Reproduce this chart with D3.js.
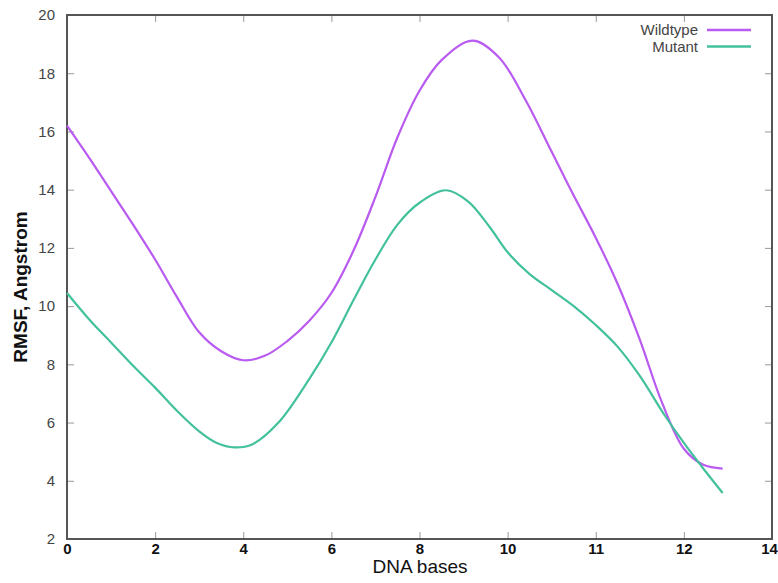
<!DOCTYPE html>
<html>
<head>
<meta charset="utf-8">
<script src="https://cdn.jsdelivr.net/npm/d3@7"></script>
<style>
  body { margin: 0; background: #fff; }
  svg { display: block; }
</style>
</head>
<body>
<div id="chart"></div>
<script>
// tick labels on the x axis are evenly spaced, so data x = slot index
const xTickLabels = ['0', '2', '4', '6', '8', '10', '11', '12', '14']
const yTicks = [2, 4, 6, 8, 10, 12, 14, 16, 18, 20]

const wildX = [0, 0.25, 0.5, 0.75, 1.0, 1.25, 1.5, 1.75, 2.0, 2.25, 2.5, 2.75, 3.0, 3.25, 3.5, 3.75, 4.0, 4.25, 4.6, 4.9, 5.2, 5.5, 5.75, 6.0, 6.25, 6.5, 6.75, 7.0, 7.22, 7.44]
const wildY = [16.2, 15.1, 13.95, 12.8, 11.6, 10.3, 9.1, 8.45, 8.14, 8.3, 8.8, 9.5, 10.45, 11.9, 13.75, 15.8, 17.4, 18.45, 19.12, 18.55, 17.1, 15.3, 13.8, 12.35, 10.75, 8.85, 6.7, 5.1, 4.55, 4.42]

const mutX = [0, 0.25, 0.5, 0.75, 1.0, 1.25, 1.5, 1.7, 1.9, 2.1, 2.4, 2.75, 3.0, 3.25, 3.5, 3.75, 4.0, 4.3, 4.55, 4.8, 5.0, 5.25, 5.5, 5.75, 6.0, 6.25, 6.5, 6.78, 7.0, 7.2, 7.44]
const mutY = [10.45, 9.55, 8.75, 7.95, 7.2, 6.4, 5.7, 5.3, 5.15, 5.25, 6.0, 7.5, 8.75, 10.2, 11.6, 12.8, 13.55, 13.98, 13.6, 12.7, 11.85, 11.1, 10.55, 10.0, 9.35, 8.6, 7.6, 6.26, 5.3, 4.5, 3.58]

const series = [
  { name: 'Wildtype', xs: wildX, ys: wildY, color: '#b95af0' },
  { name: 'Mutant', xs: mutX, ys: mutY, color: '#43c09c' }
]

const width = 778, height = 583
const margin = { left: 67, top: 15, right: 6, bottom: 44 }

const svg = d3.select('#chart').append('svg')
  .attr('width', width)
  .attr('height', height)

const x = d3.scaleLinear().domain([0, xTickLabels.length - 1])
  .range([margin.left, width - margin.right])
const y = d3.scaleLinear().domain([2, 20])
  .range([height - margin.bottom, margin.top])

const tickLen = 7
const frameColor = '#555'
const fontNarrow = '"Liberation Sans Narrow", "Liberation Sans", Arial, sans-serif'
const fontSans = '"Liberation Sans", Arial, sans-serif'

// bottom axis (inward ticks) + labels
const xAxis = d3.axisBottom(x)
  .tickValues(d3.range(xTickLabels.length))
  .tickFormat(i => xTickLabels[i])
  .tickSizeInner(-tickLen)
  .tickSizeOuter(0)
  .tickPadding(4)

const gx = svg.append('g')
  .attr('transform', `translate(0, ${y(2)})`)
  .call(xAxis)
gx.select('.domain').remove()
gx.selectAll('line').attr('stroke', '#999')
gx.selectAll('text')
  .attr('fill', '#111')
  .style('font-family', fontNarrow)
  .style('font-size', '15px')
  .style('font-weight', 'bold')
gx.selectAll('text').filter(i => i === xTickLabels.length - 1).attr('dx', -3)

// top mirror ticks
svg.append('g')
  .attr('transform', `translate(0, ${y(20)})`)
  .call(d3.axisTop(x).tickValues(d3.range(1, xTickLabels.length - 1))
    .tickSizeInner(-tickLen).tickSizeOuter(0).tickFormat(''))
  .call(g => g.select('.domain').remove())
  .selectAll('line').attr('stroke', '#999')

// left axis
const gy = svg.append('g')
  .attr('transform', `translate(${x(0)}, 0)`)
  .call(d3.axisLeft(y).tickValues(yTicks).tickSizeInner(-tickLen).tickSizeOuter(0).tickPadding(12))
gy.select('.domain').remove()
gy.selectAll('line').attr('stroke', '#999')
gy.selectAll('text')
  .attr('fill', '#444')
  .style('font-family', fontSans)
  .style('font-size', '15px')

// right mirror ticks
svg.append('g')
  .attr('transform', `translate(${x(xTickLabels.length - 1)}, 0)`)
  .call(d3.axisRight(y).tickValues(yTicks.slice(1, -1)).tickSizeInner(-tickLen).tickSizeOuter(0).tickFormat(''))
  .call(g => g.select('.domain').remove())
  .selectAll('line').attr('stroke', '#999')

// frame
svg.append('rect')
  .attr('x', x(0))
  .attr('y', y(20))
  .attr('width', x(xTickLabels.length - 1) - x(0))
  .attr('height', y(2) - y(20))
  .attr('fill', 'none')
  .attr('stroke', frameColor)
  .attr('stroke-width', 2)

// curves
const line = d3.line()
  .x(d => x(d[0]))
  .y(d => y(d[1]))
  .curve(d3.curveCatmullRom.alpha(0.5))

series.forEach(s => {
  svg.append('path')
    .datum(d3.zip(s.xs, s.ys))
    .attr('d', line)
    .attr('fill', 'none')
    .attr('stroke', s.color)
    .attr('stroke-width', 2.2)
})

// legend
series.forEach((s, i) => {
  const ly = 30 + i * 16.5
  svg.append('text')
    .attr('x', 698)
    .attr('y', ly)
    .attr('dy', '0.35em')
    .attr('text-anchor', 'end')
    .attr('fill', '#444')
    .style('font-family', fontNarrow)
    .style('font-size', '15px')
    .text(s.name)
  svg.append('line')
    .attr('x1', 707).attr('x2', 751)
    .attr('y1', ly).attr('y2', ly)
    .attr('stroke', s.color)
    .attr('stroke-width', 2.5)
})

// axis titles
svg.append('text')
  .attr('x', 420)
  .attr('y', 573)
  .attr('text-anchor', 'middle')
  .attr('fill', '#111')
  .style('font-family', fontSans)
  .style('font-size', '19px')
  .text('DNA bases')

svg.append('text')
  .attr('transform', `translate(27, 287) rotate(-90)`)
  .attr('text-anchor', 'middle')
  .attr('fill', '#111')
  .style('font-family', fontSans)
  .style('font-size', '19px')
  .style('font-weight', 'bold')
  .text('RMSF, Angstrom')
</script>
</body>
</html>
